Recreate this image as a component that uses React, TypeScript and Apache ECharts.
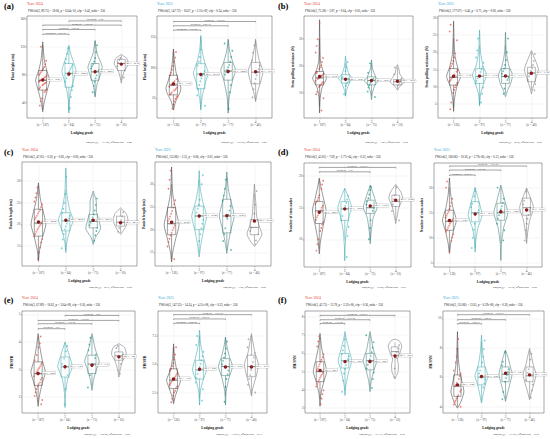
import React, { useEffect, useRef } from "react";
import * as echarts from "echarts";

const FONT = "'Liberation Serif', 'DejaVu Serif', serif";

// ---------- shared ----------
const gradeLabels = ["1", "2", "3", "4"];
const n2024 = [187, 84, 75, 10];
const n2025 = [136, 97, 77, 46];
const pointColors = ["#EE4F45", "#43C2CB", "#1E9F95", "#9494A3"];
const violinColors = ["#333333", "#2A9CA0", "#2D6B66", "#66666F"];
const yearColors: Record<number, string> = { 2024: "#E5392E", 2025: "#2BA6D6" };

// ---------- (a) plant height ----------
const a24Range = [18, 164];
const a24Ticks = [40, 80, 120, 160];
const a24Box = [[30, 58, 72, 86, 122], [28, 62, 82, 96, 120], [50, 72, 84, 96, 128], [72, 86, 96, 102, 108]];
const a24Mean = [72.41, 80.86, 84.23, 95.1];
const a24Violin = [
  [[27, 0], [40, 0.2], [60, 0.7], [72, 1], [85, 0.6], [100, 0.25], [115, 0.1], [127, 0]],
  [[25, 0], [45, 0.1], [65, 0.45], [85, 1], [95, 0.75], [110, 0.25], [122, 0]],
  [[48, 0], [65, 0.25], [85, 0.9], [92, 1], [110, 0.3], [129, 0]],
  [[68, 0], [76, 0.15], [86, 0.45], [95, 1], [103, 0.8], [109, 0]],
];
const a24Pts = [
  [30, 36, 42, 46, 50, 53, 55, 57, 59, 60, 62, 63, 65, 66, 67, 68, 69, 70, 71, 72, 73, 74, 75, 76, 77, 79, 80, 82, 84, 86, 88, 91, 95, 100, 106, 113, 120],
  [32, 48, 58, 64, 70, 75, 79, 82, 85, 88, 91, 94, 97, 102, 110, 118],
  [55, 64, 70, 75, 79, 83, 86, 89, 92, 95, 99, 104, 112, 122],
  [76, 86, 92, 97, 101, 104],
];
const a24Brackets = [[1, 2, 138], [1, 3, 144.7], [1, 4, 151], [2, 4, 157]];
const a24BracketP = ["1.27e-03", "3.06e-05", "1.18e-04", "0.04"];
const a24Subtitle = "FWelch(3, 89.75) = 18.06, p = 6.64e-10, ω̂²p = 0.42, nobs = 356";
const a24Footer = "logₑ(BF₀₁) = −13.50, R²posterior = 0.40";

const a25Range = [18, 185];
const a25Ticks = [50, 100, 150];
const a25Box = [[34, 56, 72, 88, 128], [34, 66, 90, 107, 150], [30, 80, 95, 109, 145], [48, 74, 93, 109, 144]];
const a25Mean = [73.58, 89.12, 94.06, 93.81];
const a25Violin = [
  [[31, 0], [45, 0.3], [60, 0.9], [68, 1], [90, 0.4], [110, 0.15], [131, 0]],
  [[31, 0], [50, 0.15], [75, 0.6], [92, 1], [110, 0.5], [130, 0.15], [153, 0]],
  [[26, 0], [50, 0.12], [80, 0.6], [96, 1], [110, 0.6], [128, 0.2], [147, 0]],
  [[45, 0], [60, 0.25], [80, 0.75], [95, 1], [112, 0.5], [130, 0.2], [147, 0]],
];
const a25Pts = [
  [33, 40, 45, 49, 52, 54, 56, 58, 60, 62, 63, 65, 66, 68, 69, 71, 72, 74, 76, 78, 80, 82, 85, 88, 92, 97, 103, 110, 118, 126],
  [38, 55, 65, 72, 78, 83, 87, 91, 95, 99, 104, 110, 118, 130, 145],
  [33, 60, 72, 80, 85, 89, 93, 97, 101, 105, 110, 118, 128, 140],
  [52, 65, 75, 82, 88, 93, 98, 104, 112, 125, 138],
];
const a25Brackets = [[1, 2, 162], [1, 3, 169], [1, 4, 176]];
const a25BracketP = ["1.19e-04", "2.26e-07", "1.96e-06"];
const a25Subtitle = "FWelch(3, 147.72) = 16.67, p = 2.31e-09, ω̂²p = 0.24, nobs = 356";
const a25Footer = "logₑ(BF₀₁) = −10.96, R²posterior = 0.27";

// ---------- (b) stem pulling resistance ----------
const b24Range = [0.7, 38.6];
const b24Ticks = [10, 20, 30];
const b24Box = [[5, 13, 15.6, 18, 30], [9, 13.7, 15.2, 16.8, 21], [9, 13, 14.6, 16, 21], [11.5, 13, 14.2, 15, 19.5]];
const b24Mean = [16.12, 15.07, 14.63, 14.35];
const b24Violin = [
  [[2.6, 0], [8, 0.08], [12, 0.35], [15.5, 1], [18, 0.5], [22, 0.12], [30, 0.04], [37.2, 0]],
  [[8.8, 0], [11, 0.15], [14, 0.6], [15.5, 1], [17, 0.5], [20, 0.15], [23.6, 0]],
  [[7.5, 0], [10, 0.12], [13, 0.5], [14.5, 1], [16, 0.6], [19, 0.15], [22.3, 0]],
  [[11, 0], [12.5, 0.35], [14, 1], [15.5, 0.75], [17, 0.35], [19, 0.2], [20.5, 0]],
];
const b24Pts = [
  [3.5, 6, 8, 9.5, 10.5, 11.5, 12.2, 12.8, 13.3, 13.7, 14.1, 14.5, 14.9, 15.2, 15.5, 15.8, 16.1, 16.4, 16.7, 17, 17.4, 17.8, 18.3, 18.9, 19.6, 20.5, 21.5, 23, 25, 27.5, 30, 33, 36],
  [9.5, 11.5, 12.8, 13.7, 14.4, 15, 15.5, 16, 16.6, 17.3, 18.2, 19.5, 21.5],
  [8.5, 10.5, 12, 13, 13.7, 14.3, 14.8, 15.3, 15.9, 16.6, 17.5, 19, 21],
  [11.8, 13, 13.8, 14.5, 15.3, 17, 19.5],
];
const b24Brackets: number[][] = [];
const b24BracketP: string[] = [];
const b24Subtitle = "FWelch(3, 75.38) = 2.87, p = 0.04, ω̂²p = 0.05, nobs = 356";
const b24Footer = "logₑ(BF₀₁) = 1.21, R²posterior = 0.00";

const b25Range = [1, 30.5];
const b25Ticks = [5, 10, 15, 20, 25, 30];
const b25Box = [[4, 10.5, 12.8, 15.3, 24], [5, 11, 13, 15.3, 22], [8, 11, 13, 15.3, 22], [9, 11.5, 14, 15.7, 20]];
const b25Mean = [13.1, 13.12, 13.13, 13.95];
const b25Violin = [
  [[2.9, 0], [6, 0.1], [10, 0.45], [13, 1], [15.5, 0.6], [19, 0.2], [24, 0.06], [29, 0]],
  [[4.5, 0], [8, 0.15], [11, 0.6], [13.5, 1], [16, 0.5], [20, 0.15], [26.4, 0]],
  [[7.2, 0], [9, 0.3], [11, 0.75], [13.5, 1], [16, 0.5], [20, 0.12], [25.8, 0]],
  [[8, 0], [10, 0.25], [12.5, 0.65], [15, 1], [17, 0.7], [19, 0.3], [20.5, 0]],
];
const b25Pts = [
  [3.5, 5.5, 7, 8.2, 9.2, 10, 10.6, 11.1, 11.6, 12, 12.4, 12.8, 13.2, 13.6, 14, 14.4, 14.9, 15.4, 16, 16.7, 17.5, 18.5, 19.8, 21.5, 23.5, 26, 28],
  [5.5, 8, 9.8, 11, 11.8, 12.5, 13.1, 13.7, 14.3, 15, 15.8, 17, 18.5, 20.5, 24],
  [8, 9.5, 10.5, 11.3, 12, 12.6, 13.2, 13.8, 14.5, 15.3, 16.3, 17.8, 20, 24],
  [9, 10.8, 12, 13, 13.8, 14.6, 15.4, 16.3, 17.5, 19.5],
];
const b25Brackets: number[][] = [];
const b25BracketP: string[] = [];
const b25Subtitle = "FWelch(3, 177.07) = 0.46, p = 0.71, ω̂²p = 0.00, nobs = 356";
const b25Footer = "logₑ(BF₀₁) = 4.75, R²posterior = 0.00";

// ---------- (c) panicle length ----------
const c24Range = [10.4, 34.4];
const c24Ticks = [15, 20, 25, 30];
const c24Box = [[12, 17.3, 20.3, 23.5, 29], [14, 18.5, 20.8, 22.7, 28], [16, 19.2, 20.7, 22.3, 27], [18, 19.6, 20.5, 21.9, 23.5]];
const c24Mean = [20.54, 20.96, 20.97, 20.37];
const c24Violin = [
  [[11.5, 0], [14, 0.15], [17, 0.55], [20, 1], [23, 0.65], [26, 0.25], [29.6, 0]],
  [[13.5, 0], [16, 0.15], [19, 0.6], [21, 1], [23.5, 0.5], [27, 0.15], [33, 0]],
  [[15.4, 0], [17, 0.3], [19, 1], [21, 0.75], [23, 0.45], [25.5, 0.4], [27.7, 0]],
  [[17.7, 0], [18.5, 0.35], [19.5, 0.7], [21, 1], [22.5, 0.75], [23.8, 0]],
];
const c24Pts = [
  [12, 13.5, 14.8, 15.8, 16.6, 17.2, 17.8, 18.3, 18.8, 19.2, 19.6, 20, 20.4, 20.8, 21.2, 21.6, 22, 22.5, 23, 23.5, 24, 24.6, 25.3, 26.2, 27.2, 28.5],
  [14.5, 16.5, 17.8, 18.8, 19.5, 20.2, 20.8, 21.4, 22, 22.7, 23.6, 25, 27, 31],
  [16.2, 17.5, 18.5, 19.2, 19.8, 20.4, 21, 21.6, 22.3, 23.2, 24.5, 26],
  [18.3, 19.3, 20.2, 21, 21.8, 22.8],
];
const c24Brackets: number[][] = [];
const c24BracketP: string[] = [];
const c24Subtitle = "FWelch(3, 47.05) = 0.30, p = 0.83, ω̂²p = 0.00, nobs = 356";
const c24Footer = "logₑ(BF₀₁) = 4.31, R²posterior = 0.00";

const c25Range = [12, 34.9];
const c25Ticks = [15, 20, 25, 30];
const c25Box = [[13.5, 18.9, 21.3, 24.9, 30], [15, 20, 23, 25.2, 31], [15.5, 19.3, 23, 26.7, 31.5], [17, 18.9, 20.5, 22.2, 28]];
const c25Mean = [21.62, 23.02, 23.05, 21.88];
const c25Violin = [
  [[12.9, 0], [15, 0.15], [18, 0.55], [21, 1], [24, 0.6], [28, 0.15], [33.8, 0]],
  [[14, 0], [17, 0.25], [20, 0.6], [23, 1], [26, 0.5], [29, 0.15], [33, 0]],
  [[14.8, 0], [17, 0.2], [20, 0.55], [23, 1], [26, 0.6], [29, 0.2], [32.7, 0]],
  [[16.3, 0], [17.5, 0.55], [19, 1], [21, 0.6], [23, 0.3], [26, 0.18], [30, 0]],
];
const c25Pts = [
  [13.5, 15, 16.3, 17.3, 18, 18.7, 19.3, 19.9, 20.4, 20.9, 21.4, 21.9, 22.4, 22.9, 23.5, 24.1, 24.8, 25.6, 26.5, 27.6, 29, 31, 33],
  [15, 17.5, 19, 20.3, 21.3, 22.2, 23, 23.8, 24.6, 25.5, 26.6, 28, 30, 32],
  [15.5, 17.5, 19, 20.3, 21.4, 22.4, 23.3, 24.2, 25.2, 26.3, 27.5, 29, 31],
  [16.8, 17.6, 18.3, 19, 19.7, 20.4, 21.2, 22.2, 23.5, 25.5, 28.5],
];
const c25Brackets: number[][] = [];
const c25BracketP: string[] = [];
const c25Subtitle = "FWelch(3, 155.86) = 2.53, p = 0.06, ω̂²p = 0.01, nobs = 356";
const c25Footer = "logₑ(BF₀₁) = 1.00, R²posterior = 0.00";

// ---------- (d) number of stem nodes ----------
const d24Range = [5.6, 22.1];
const d24Ticks = [10, 15, 20];
const d24Box = [[8.5, 12.5, 14.5, 16, 19.5], [10, 13, 14.8, 16, 18], [10, 14.1, 15, 16.2, 18.5], [13, 15.2, 16, 17, 18.5]];
const d24Mean = [14.27, 14.82, 15.27, 16.2];
const d24Violin = [
  [[7.7, 0], [9.5, 0.15], [12, 0.55], [14.5, 1], [16.5, 0.6], [18.5, 0.2], [19.7, 0]],
  [[6.6, 0], [9, 0.06], [11.5, 0.25], [13.5, 0.6], [15, 1], [16.5, 0.6], [18.1, 0]],
  [[9.3, 0], [11, 0.12], [13.5, 0.45], [15, 1], [16.5, 0.65], [18.6, 0]],
  [[12.5, 0], [13.5, 0.18], [15, 0.45], [16.5, 1], [17.5, 0.75], [18.7, 0]],
];
const d24Pts = [
  [8.2, 9.2, 10, 10.7, 11.3, 11.8, 12.3, 12.7, 13.1, 13.5, 13.8, 14.1, 14.4, 14.7, 15, 15.3, 15.6, 15.9, 16.2, 16.6, 17, 17.5, 18, 18.7, 19.3],
  [7.2, 10.5, 12, 13, 13.7, 14.3, 14.8, 15.3, 15.8, 16.3, 16.9, 17.6],
  [10, 11.8, 13, 13.9, 14.5, 15, 15.5, 16, 16.5, 17.1, 17.8, 18.3],
  [13, 14.5, 15.5, 16.3, 17, 17.6, 18.2],
];
const d24Brackets = [[1, 3, 20.7], [1, 4, 21.4]];
const d24BracketP = ["0.03", "1.59e-03"];
const d24Subtitle = "FWelch(3, 45.81) = 7.69, p = 2.77e-04, ω̂²p = 0.22, nobs = 356";
const d24Footer = "logₑ(BF₀₁) = −5.65, R²posterior = 0.03";

const d25Range = [4.2, 24.9];
const d25Ticks = [5, 10, 15, 20];
const d25Box = [[7.5, 11.5, 13.3, 15.5, 20], [8, 13.2, 15, 17.2, 20], [9, 13.5, 15, 16.9, 20], [10, 14.5, 16, 17.9, 19.8]];
const d25Mean = [13.47, 14.73, 15.2, 15.53];
const d25Violin = [
  [[6.9, 0], [9, 0.2], [11.5, 0.6], [13.5, 1], [16, 0.5], [19, 0.15], [21.9, 0]],
  [[7.2, 0], [9.5, 0.1], [12, 0.4], [14.5, 1], [17, 0.6], [20, 0]],
  [[5.5, 0], [9, 0.1], [12, 0.4], [15, 1], [17.5, 0.55], [20.5, 0]],
  [[8.9, 0], [11, 0.15], [13.5, 0.45], [16, 1], [18, 0.55], [19.9, 0]],
];
const d25Pts = [
  [7.3, 8.5, 9.4, 10.1, 10.7, 11.2, 11.6, 12, 12.4, 12.8, 13.1, 13.4, 13.7, 14, 14.4, 14.8, 15.2, 15.7, 16.3, 17, 17.8, 18.8, 20, 21.2],
  [8, 10, 11.6, 12.8, 13.6, 14.3, 14.9, 15.5, 16.1, 16.8, 17.5, 18.3, 19.3],
  [6.5, 9.5, 11.5, 12.8, 13.8, 14.5, 15.1, 15.7, 16.3, 17, 17.8, 18.8, 20],
  [9.5, 11.5, 12.8, 13.8, 14.6, 15.3, 16, 16.7, 17.4, 18.2, 19.2],
];
const d25Brackets = [[1, 2, 22.5], [1, 3, 23.5], [1, 4, 24.3]];
const d25BracketP = ["2.21e-03", "1.09e-04", "1.23e-04"];
const d25Subtitle = "FWelch(3, 160.06) = 10.26, p = 2.79e-06, ω̂²p = 0.13, nobs = 356";
const d25Footer = "logₑ(BF₀₁) = −5.70, R²posterior = 0.06";

// ---------- (e) PH/SPR ----------
const e24Range = [1.43, 5.12];
const e24Ticks = [2, 3, 4, 5];
const e24Box = [[1.8, 2.43, 2.85, 3.28, 4.2], [2.2, 2.73, 3.1, 3.46, 3.95], [2.4, 2.86, 3.2, 3.52, 4.2], [2.9, 3.34, 3.5, 3.64, 3.9]];
const e24Mean = [2.86, 3.1, 3.16, 3.46];
const e24Violin = [
  [[1.67, 0], [2.0, 0.15], [2.5, 0.55], [2.9, 1], [3.3, 0.6], [3.8, 0.25], [4.3, 0]],
  [[1.63, 0], [2.2, 0.1], [2.7, 0.4], [3.1, 1], [3.5, 0.6], [4, 0]],
  [[2.25, 0], [2.6, 0.2], [3.0, 0.6], [3.3, 1], [3.7, 0.5], [4.3, 0]],
  [[2.73, 0], [3.0, 0.18], [3.3, 0.5], [3.55, 1], [3.8, 0.8], [3.94, 0]],
];
const e24Pts = [
  [1.75, 1.9, 2.05, 2.18, 2.3, 2.4, 2.48, 2.56, 2.63, 2.7, 2.76, 2.82, 2.88, 2.94, 3.0, 3.06, 3.12, 3.19, 3.26, 3.34, 3.43, 3.53, 3.65, 3.8, 3.97, 4.2],
  [1.75, 2.3, 2.6, 2.8, 2.95, 3.08, 3.2, 3.3, 3.4, 3.52, 3.66, 3.85],
  [2.35, 2.6, 2.8, 2.95, 3.08, 3.2, 3.3, 3.42, 3.55, 3.7, 3.9, 4.15],
  [2.85, 3.2, 3.4, 3.55, 3.65, 3.78, 3.88],
];
const e24Brackets = [[1, 2, 4.48], [1, 3, 4.66], [1, 4, 4.78], [2, 4, 4.96]];
const e24BracketP = ["0.01", "1.38e-04", "3.39e-05", "0.02"];
const e24Subtitle = "FWelch(3, 67.89) = 16.62, p = 3.64e-08, ω̂²p = 0.36, nobs = 356";
const e24Footer = "logₑ(BF₀₁) = −12.55, R²posterior = 0.09";

const e25Range = [0.7, 9.7];
const e25Ticks = [2.5, 5, 7.5];
const e25Box = [[1.7, 2.85, 3.6, 4.6, 6.5], [2, 3.7, 4.5, 5.35, 7.5], [2.2, 4, 4.8, 5.5, 7.3], [2.4, 3.9, 4.8, 5.8, 7.5]];
const e25Mean = [3.7, 4.56, 4.76, 4.76];
const e25Violin = [
  [[1.53, 0], [2.2, 0.25], [3.0, 0.7], [3.6, 1], [4.5, 0.45], [5.5, 0.15], [6.8, 0]],
  [[1.4, 0], [2.5, 0.1], [3.5, 0.45], [4.5, 1], [5.5, 0.6], [6.8, 0.15], [8, 0]],
  [[1.4, 0], [2.6, 0.1], [3.8, 0.5], [4.8, 1], [5.7, 0.55], [6.6, 0.2], [7.4, 0]],
  [[2.2, 0], [3.0, 0.25], [4.0, 0.7], [5.0, 1], [6.0, 0.5], [7.0, 0.2], [7.7, 0]],
];
const e25Pts = [
  [1.65, 1.95, 2.25, 2.5, 2.7, 2.9, 3.05, 3.2, 3.33, 3.46, 3.58, 3.7, 3.82, 3.95, 4.1, 4.25, 4.42, 4.6, 4.85, 5.1, 5.45, 5.9, 6.5],
  [1.8, 2.8, 3.4, 3.8, 4.15, 4.45, 4.75, 5.05, 5.35, 5.7, 6.1, 6.7, 7.5],
  [1.7, 3.0, 3.7, 4.1, 4.45, 4.75, 5.0, 5.3, 5.6, 5.95, 6.4, 7.0],
  [2.5, 3.2, 3.7, 4.1, 4.5, 4.85, 5.2, 5.6, 6.0, 6.5, 7.2],
];
const e25Brackets = [[1, 2, 8.62], [1, 3, 9.0], [1, 4, 9.38]];
const e25BracketP = ["2.04e-05", "2.55e-07", "1.41e-04"];
const e25Subtitle = "FWelch(3, 147.33) = 14.34, p = 4.51e-08, ω̂²p = 0.23, nobs = 356";
const e25Footer = "logₑ(BF₀₁) = −10.93, R²posterior = 0.13";

// ---------- (f) PH/SNN ----------
const f24Range = [2.73, 8.33];
const f24Ticks = [3, 4, 5, 6, 7, 8];
const f24Box = [[3.5, 4.45, 5.0, 5.55, 6.9], [4, 5.2, 5.6, 6, 7], [4.2, 5.1, 5.6, 6, 7], [4.8, 5.9, 6.1, 6.36, 6.6]];
const f24Mean = [5.07, 5.55, 5.56, 5.86];
const f24Violin = [
  [[3.1, 0], [3.8, 0.15], [4.5, 0.6], [5.0, 1], [5.6, 0.65], [6.3, 0.25], [7.1, 0]],
  [[3.7, 0], [4.3, 0.15], [5.0, 0.55], [5.6, 1], [6.2, 0.6], [6.8, 0.2], [7.2, 0]],
  [[3.9, 0], [4.5, 0.2], [5.1, 0.6], [5.6, 1], [6.2, 0.5], [6.8, 0.2], [7.2, 0]],
  [[4.6, 0], [5.0, 0.45], [5.4, 0.5], [5.7, 0.35], [6.0, 0.7], [6.4, 1], [6.7, 0.6], [6.78, 0]],
];
const f24Pts = [
  [3.25, 3.55, 3.8, 4.0, 4.18, 4.32, 4.45, 4.56, 4.66, 4.76, 4.85, 4.94, 5.03, 5.12, 5.22, 5.32, 5.43, 5.55, 5.68, 5.82, 5.98, 6.15, 6.38, 6.65, 6.95],
  [3.9, 4.5, 4.9, 5.15, 5.35, 5.52, 5.68, 5.84, 6.0, 6.2, 6.45, 6.8],
  [4.1, 4.6, 4.95, 5.2, 5.4, 5.56, 5.72, 5.9, 6.1, 6.35, 6.65, 7.0],
  [4.75, 5.2, 5.8, 6.1, 6.3, 6.5],
];
const f24Brackets = [[1, 2, 7.64], [1, 3, 7.85], [1, 4, 8.09]];
const f24BracketP = ["1.17e-04", "2.03e-04", "9.96e-03"];
const f24Subtitle = "FWelch(3, 42.73) = 13.78, p = 2.22e-06, ω̂²p = 0.36, nobs = 356";
const f24Footer = "logₑ(BF₀₁) = −11.13, R²posterior = 0.10";

const f25Range = [3.57, 10.5];
const f25Ticks = [4, 6, 8, 10];
const f25Box = [[4, 4.7, 5.4, 6.16, 8], [4.4, 5.48, 6, 6.7, 8.4], [4.5, 5.7, 6.2, 6.7, 7.8], [4.6, 5.7, 6.1, 6.7, 7.8]];
const f25Mean = [5.48, 6.05, 6.27, 6.16];
const f25Violin = [
  [[3.9, 0], [4.3, 0.5], [5.0, 1], [5.6, 0.75], [6.3, 0.4], [7.2, 0.15], [8.2, 0.06], [9.1, 0]],
  [[4.25, 0], [4.8, 0.25], [5.5, 0.6], [6.1, 1], [6.8, 0.5], [7.8, 0.15], [8.85, 0]],
  [[4.36, 0], [4.9, 0.3], [5.6, 0.7], [6.2, 1], [6.8, 0.7], [7.4, 0.35], [7.84, 0]],
  [[4.47, 0], [5.0, 0.3], [5.6, 0.7], [6.2, 1], [6.8, 0.6], [7.4, 0.3], [7.95, 0]],
];
const f25Pts = [
  [4.0, 4.15, 4.3, 4.42, 4.55, 4.67, 4.78, 4.9, 5.02, 5.14, 5.26, 5.38, 5.5, 5.63, 5.77, 5.92, 6.08, 6.25, 6.45, 6.7, 7.0, 7.4, 7.9, 8.6],
  [4.4, 4.9, 5.3, 5.6, 5.85, 6.05, 6.25, 6.45, 6.7, 7.0, 7.4, 7.9, 8.5],
  [4.5, 5.0, 5.4, 5.7, 5.95, 6.15, 6.35, 6.55, 6.8, 7.05, 7.35, 7.7],
  [4.6, 5.1, 5.5, 5.8, 6.05, 6.3, 6.55, 6.85, 7.2, 7.6],
];
const f25Brackets = [[1, 2, 9.64], [1, 3, 9.91], [1, 4, 10.25]];
const f25BracketP = ["1.56e-03", "1.52e-07", "2.35e-03"];
const f25Subtitle = "FWelch(3, 155.86) = 13.65, p = 6.39e-08, ω̂²p = 0.26, nobs = 356";
const f25Footer = "logₑ(BF₀₁) = −11.81, R²posterior = 0.10";

// ---------- assembled table ----------
const subplots = [
  { letter: "(a)", year: 2024, yName: "Plant height (cm)", range: a24Range, ticks: a24Ticks, digits: 0, box: a24Box, mean: a24Mean, violin: a24Violin, pts: a24Pts, brackets: a24Brackets, bracketP: a24BracketP, subtitle: a24Subtitle, footer: a24Footer },
  { letter: "", year: 2025, yName: "Plant height (cm)", range: a25Range, ticks: a25Ticks, digits: 0, box: a25Box, mean: a25Mean, violin: a25Violin, pts: a25Pts, brackets: a25Brackets, bracketP: a25BracketP, subtitle: a25Subtitle, footer: a25Footer },
  { letter: "(b)", year: 2024, yName: "Stem pulling resistance (N)", range: b24Range, ticks: b24Ticks, digits: 0, box: b24Box, mean: b24Mean, violin: b24Violin, pts: b24Pts, brackets: b24Brackets, bracketP: b24BracketP, subtitle: b24Subtitle, footer: b24Footer },
  { letter: "", year: 2025, yName: "Stem pulling resistance (N)", range: b25Range, ticks: b25Ticks, digits: 0, box: b25Box, mean: b25Mean, violin: b25Violin, pts: b25Pts, brackets: b25Brackets, bracketP: b25BracketP, subtitle: b25Subtitle, footer: b25Footer },
  { letter: "(c)", year: 2024, yName: "Panicle length (cm)", range: c24Range, ticks: c24Ticks, digits: 0, box: c24Box, mean: c24Mean, violin: c24Violin, pts: c24Pts, brackets: c24Brackets, bracketP: c24BracketP, subtitle: c24Subtitle, footer: c24Footer },
  { letter: "", year: 2025, yName: "Panicle length (cm)", range: c25Range, ticks: c25Ticks, digits: 0, box: c25Box, mean: c25Mean, violin: c25Violin, pts: c25Pts, brackets: c25Brackets, bracketP: c25BracketP, subtitle: c25Subtitle, footer: c25Footer },
  { letter: "(d)", year: 2024, yName: "Number of stem nodes", range: d24Range, ticks: d24Ticks, digits: 0, box: d24Box, mean: d24Mean, violin: d24Violin, pts: d24Pts, brackets: d24Brackets, bracketP: d24BracketP, subtitle: d24Subtitle, footer: d24Footer },
  { letter: "", year: 2025, yName: "Number of stem nodes", range: d25Range, ticks: d25Ticks, digits: 0, box: d25Box, mean: d25Mean, violin: d25Violin, pts: d25Pts, brackets: d25Brackets, bracketP: d25BracketP, subtitle: d25Subtitle, footer: d25Footer },
  { letter: "(e)", year: 2024, yName: "PH/SPR", range: e24Range, ticks: e24Ticks, digits: 0, box: e24Box, mean: e24Mean, violin: e24Violin, pts: e24Pts, brackets: e24Brackets, bracketP: e24BracketP, subtitle: e24Subtitle, footer: e24Footer },
  { letter: "", year: 2025, yName: "PH/SPR", range: e25Range, ticks: e25Ticks, digits: 1, box: e25Box, mean: e25Mean, violin: e25Violin, pts: e25Pts, brackets: e25Brackets, bracketP: e25BracketP, subtitle: e25Subtitle, footer: e25Footer },
  { letter: "(f)", year: 2024, yName: "PH/SNN", range: f24Range, ticks: f24Ticks, digits: 0, box: f24Box, mean: f24Mean, violin: f24Violin, pts: f24Pts, brackets: f24Brackets, bracketP: f24BracketP, subtitle: f24Subtitle, footer: f24Footer },
  { letter: "", year: 2025, yName: "PH/SNN", range: f25Range, ticks: f25Ticks, digits: 0, box: f25Box, mean: f25Mean, violin: f25Violin, pts: f25Pts, brackets: f25Brackets, bracketP: f25BracketP, subtitle: f25Subtitle, footer: f25Footer },
];

// plot box [left, top, right, bottom, yNameGap]
const layout = [
  [27, 16, 137, 118, 12], [157, 16, 272, 118, 9], [304, 16, 413, 118, 9], [438, 16, 547, 118, 7],
  [22, 162, 137, 266, 8], [155, 162, 271, 266, 8], [304, 163, 411, 267, 11], [434, 163, 542, 267, 10],
  [22, 311, 135, 413, 8], [158, 311, 267, 413, 11], [305, 311, 410, 413, 8], [443, 311, 544, 413, 10],
];
// per-row text lines: [yearY, subtitleY, footerY]
const rowText = [[4, 10.5, 142], [150, 157, 287], [298, 305, 434]];

const jitter = (k: number) => (((k * 53) % 17) / 16 - 0.5) * 2;

function buildOption() {
  const grid: any[] = [];
  const xAxis: any[] = [];
  const yAxis: any[] = [];
  const series: any[] = [];
  const graphic: any[] = [];

  subplots.forEach((sp, i) => {
    const [l, t, r, b, gap] = layout[i];
    const row = Math.floor(i / 4);
    const ns = sp.year === 2024 ? n2024 : n2025;
    grid.push({ left: l, top: t, width: r - l, height: b - t, show: true, borderColor: "#4d4d4d", borderWidth: 0.5, backgroundColor: "transparent", containLabel: false });
    xAxis.push({
      type: "value", gridIndex: i, min: 0.4, max: 4.6,
      name: "Lodging grade", nameLocation: "middle", nameGap: 13,
      nameTextStyle: { fontFamily: FONT, fontSize: 3.6, fontWeight: "bold", color: "#1a1a1a" },
      axisLine: { show: false },
      axisTick: { show: true, length: 1.2, lineStyle: { color: "#4d4d4d", width: 0.4 }, customValues: [1, 2, 3, 4] },
      axisLabel: {
        customValues: [1, 2, 3, 4],
        formatter: (v: number) => { const k = Math.round(v) - 1; return `${gradeLabels[k]}\n(n = ${ns[k]})`; },
        fontFamily: FONT, fontSize: 3.2, lineHeight: 3.4, color: "#4d4d4d", margin: 1.8,
      },
      splitLine: { show: true, lineStyle: { color: "#e6e6e6", width: 0.4 } },
    });
    yAxis.push({
      type: "value", gridIndex: i, min: sp.range[0], max: sp.range[1],
      name: sp.yName, nameLocation: "middle", nameGap: gap,
      nameTextStyle: { fontFamily: FONT, fontSize: 3.6, fontWeight: "bold", color: "#1a1a1a" },
      axisLine: { show: false },
      axisTick: { show: true, length: 1.2, lineStyle: { color: "#4d4d4d", width: 0.4 }, customValues: sp.ticks },
      axisLabel: {
        customValues: sp.ticks,
        formatter: (v: number) => v.toFixed(sp.digits),
        fontFamily: FONT, fontSize: 3.4, color: "#4d4d4d", margin: 1.5,
      },
      splitLine: { show: true, lineStyle: { color: "#e6e6e6", width: 0.4 } },
    });

    const common = { type: "custom", xAxisIndex: i, yAxisIndex: i, silent: true };

    // violins
    series.push({
      ...common, z: 2,
      data: sp.violin.map((v, gi) => [gi + 1, v[0][0], gi]),
      renderItem: (params: any, api: any) => {
        const gi = api.value(2);
        const unit = api.size([1, 0])[0];
        const half = unit * 0.27;
        const shape = sp.violin[gi];
        const left = shape.map(([v, w]) => { const p = api.coord([gi + 1, v]); return [p[0] - w * half, p[1]]; });
        const right = shape.map(([v, w]) => { const p = api.coord([gi + 1, v]); return [p[0] + w * half, p[1]]; }).reverse();
        return { type: "polygon", shape: { points: left.concat(right), smooth: 0.2 }, style: { fill: "rgba(255,255,255,0)", stroke: violinColors[gi], lineWidth: 0.5 } };
      },
    });

    // jittered points
    const ptsData: number[][] = [];
    sp.pts.forEach((arr, gi) => arr.forEach((v, k) => ptsData.push([gi + 1, v, gi, k])));
    series.push({
      ...common, z: 3,
      data: ptsData,
      renderItem: (params: any, api: any) => {
        const gi = api.value(2);
        const k = api.value(3);
        const p = api.coord([api.value(0), api.value(1)]);
        const unit = api.size([1, 0])[0];
        const off = jitter(k + gi * 5 + i * 3) * unit * 0.15;
        return { type: "circle", shape: { cx: p[0] + off, cy: p[1], r: 0.85 }, style: { fill: pointColors[gi], opacity: 0.75 } };
      },
    });

    // boxes
    series.push({
      ...common, z: 4,
      data: sp.box.map((bx, gi) => [gi + 1, bx[0], bx[1], bx[2], bx[3], bx[4], gi]),
      renderItem: (params: any, api: any) => {
        const x = api.value(0);
        const gi = api.value(6);
        const unit = api.size([1, 0])[0];
        const hw = unit * 0.15;
        const pLo = api.coord([x, api.value(1)]);
        const pQ1 = api.coord([x, api.value(2)]);
        const pMd = api.coord([x, api.value(3)]);
        const pQ3 = api.coord([x, api.value(4)]);
        const pHi = api.coord([x, api.value(5)]);
        const cx = pMd[0];
        const col = violinColors[gi];
        return {
          type: "group",
          children: [
            { type: "line", shape: { x1: cx, y1: pLo[1], x2: cx, y2: pQ1[1] }, style: { stroke: col, lineWidth: 0.45 } },
            { type: "line", shape: { x1: cx, y1: pQ3[1], x2: cx, y2: pHi[1] }, style: { stroke: col, lineWidth: 0.45 } },
            { type: "rect", shape: { x: cx - hw, y: pQ3[1], width: 2 * hw, height: pQ1[1] - pQ3[1] }, style: { fill: "rgba(255,255,255,0.15)", stroke: col, lineWidth: 0.45 } },
            { type: "line", shape: { x1: cx - hw, y1: pMd[1], x2: cx + hw, y2: pMd[1] }, style: { stroke: col, lineWidth: 0.7 } },
          ],
        };
      },
    });

    // means with labels
    series.push({
      ...common, z: 5,
      data: sp.mean.map((m, gi) => [gi + 1, m, gi]),
      renderItem: (params: any, api: any) => {
        const m = api.value(1);
        const p = api.coord([api.value(0), m]);
        const lx = p[0] + 4.3;
        const ly = p[1] - 0.5;
        return {
          type: "group",
          children: [
            { type: "line", shape: { x1: p[0], y1: p[1], x2: lx, y2: ly }, style: { stroke: "#666", lineWidth: 0.3 } },
            { type: "circle", shape: { cx: p[0], cy: p[1], r: 1.7 }, style: { fill: "#8B1A1A" } },
            {
              type: "text",
              style: {
                text: "μ̂ₘₑₐₙ = " + m.toFixed(2), x: lx, y: ly, fontSize: 2.3, fontFamily: FONT, fill: "#222",
                align: "left", verticalAlign: "middle", backgroundColor: "#ffffff", borderColor: "#888", borderWidth: 0.25, padding: [0.4, 0.8],
              },
            },
          ],
        };
      },
    });

    // significance brackets
    if (sp.brackets.length) {
      series.push({
        ...common, z: 6,
        data: sp.brackets.map((bk, k) => [bk[0], bk[1], bk[2], k]),
        renderItem: (params: any, api: any) => {
          const y = api.value(2);
          const k = api.value(3);
          const p1 = api.coord([api.value(0), y]);
          const p2 = api.coord([api.value(1), y]);
          return {
            type: "group",
            children: [
              { type: "polyline", shape: { points: [[p1[0], p1[1] + 0.9], [p1[0], p1[1]], [p2[0], p1[1]], [p2[0], p1[1] + 0.9]] }, style: { stroke: "#333", lineWidth: 0.45, fill: null } },
              { type: "text", style: { text: "pHolm-adj. = " + sp.bracketP[k], x: (p1[0] + p2[0]) / 2, y: p1[1] - 0.3, fontSize: 2.2, fontFamily: FONT, fill: "#333", align: "center", verticalAlign: "bottom" } },
            ],
          };
        },
      });
    }

    // texts: letter, year, subtitle, footer
    const [yearY, subY, footY] = rowText[row];
    if (sp.letter) {
      graphic.push({ type: "text", x: i % 4 === 0 ? 4 : 278, y: yearY + 2, style: { text: sp.letter, fontSize: 8.5, fontWeight: "bold", fontFamily: FONT, fill: "#000", verticalAlign: "middle" } });
    }
    graphic.push({ type: "text", x: l, y: yearY, style: { text: `Year: ${sp.year}`, fontSize: 3.6, fontFamily: FONT, fill: yearColors[sp.year], verticalAlign: "middle" } });
    graphic.push({ type: "text", x: l + 1, y: subY, style: { text: sp.subtitle, fontSize: 3, fontFamily: FONT, fill: "#1a1a1a", verticalAlign: "middle" } });
    graphic.push({ type: "text", x: r - 5, y: footY, style: { text: sp.footer, fontSize: 2.9, fontFamily: FONT, fill: "#1a1a1a", align: "right", verticalAlign: "middle" } });
  });

  return { animation: false, backgroundColor: "#ffffff", textStyle: { fontFamily: FONT }, grid, xAxis, yAxis, series, graphic };
}

export default function App() {
  const ref = useRef<HTMLDivElement>(null);
  useEffect(() => {
    if (!ref.current) return;
    const chart = echarts.init(ref.current, null, { renderer: "svg" });
    chart.setOption(buildOption() as any);
    return () => chart.dispose();
  }, []);
  return <div ref={ref} style={{ position: "fixed", left: 0, top: 0, width: 550, height: 439, background: "#fff" }} />;
}
